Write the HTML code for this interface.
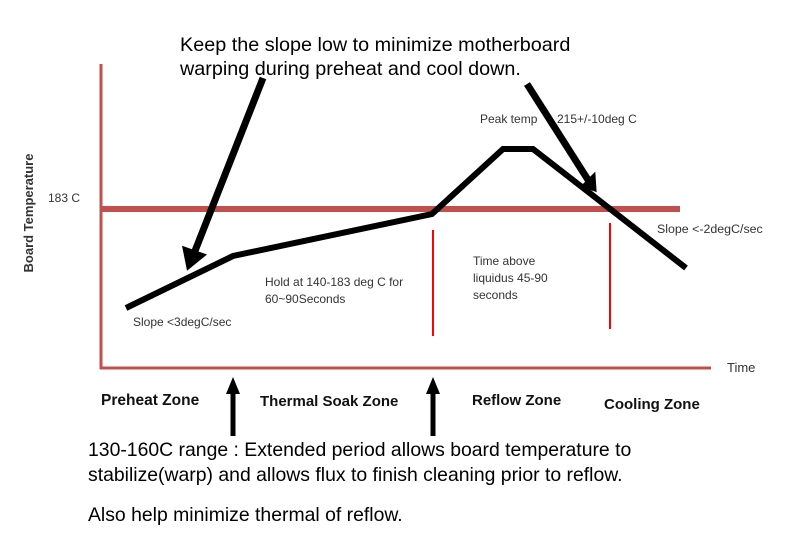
<!DOCTYPE html>
<html><head><meta charset="utf-8"><style>
html,body{margin:0;padding:0;background:#fff;}
svg{display:block;}
text{font-family:"Liberation Sans",sans-serif;}
</style></head><body>
<svg width="789" height="548" viewBox="0 0 789 548" xmlns="http://www.w3.org/2000/svg">
<!-- axes -->
<line x1="101" y1="64" x2="101" y2="369" stroke="#c0504d" stroke-width="3"/>
<line x1="100" y1="368" x2="711" y2="368" stroke="#c0504d" stroke-width="3"/>
<line x1="100" y1="209" x2="680" y2="209" stroke="#c0504d" stroke-width="6"/>
<!-- red verticals -->
<line x1="433" y1="230" x2="433" y2="336" stroke="#ff0000" stroke-width="2"/>
<line x1="610" y1="223" x2="610" y2="329" stroke="#ff0000" stroke-width="2"/>
<!-- profile -->
<polyline points="126,308 233,256 432,214 503,149 533,149 686,268" fill="none" stroke="#000" stroke-width="6" stroke-linejoin="miter"/>
<!-- arrows -->
<line x1="263" y1="78" x2="193" y2="256" stroke="#000" stroke-width="7"/>
<path d="M184,248 L188,268 L204,255 Z" fill="#000" stroke="#000" stroke-width="3"/>
<line x1="527" y1="84" x2="590" y2="183" stroke="#000" stroke-width="7"/>
<path d="M583,186 L595,190 L594,175 Z" fill="#000" stroke="#000" stroke-width="3"/>
<line x1="233" y1="436" x2="233" y2="392" stroke="#000" stroke-width="5"/>
<path d="M226,394 L233,377 L240,394 Z" fill="#000"/>
<line x1="433" y1="436" x2="433" y2="392" stroke="#000" stroke-width="5"/>
<path d="M426,394 L433,377 L440,394 Z" fill="#000"/>
<!-- texts -->
<text x="180" y="51" font-size="19.8">Keep the slope low to minimize motherboard</text>
<text x="180" y="75" font-size="19.8">warping during preheat and cool down.</text>
<text x="480" y="123" font-size="12" fill="#333">Peak temp</text>
<text x="557" y="123" font-size="12" fill="#333">215+/-10deg C</text>
<text x="48" y="202" font-size="12" fill="#333">183 C</text>
<text x="33" y="213" font-size="13" font-weight="bold" fill="#333" text-anchor="middle" transform="rotate(-90 33 213)">Board Temperature</text>
<text x="657" y="233" font-size="12.4" fill="#333">Slope &lt;-2degC/sec</text>
<text x="133" y="326" font-size="12" fill="#333">Slope &lt;3degC/sec</text>
<text x="265" y="286" font-size="12" fill="#333">Hold at 140-183 deg C for</text>
<text x="265" y="303" font-size="12" fill="#333">60~90Seconds</text>
<text x="473" y="265" font-size="12" fill="#333">Time above</text>
<text x="473" y="282" font-size="12" fill="#333">liquidus 45-90</text>
<text x="473" y="299" font-size="12" fill="#333">seconds</text>
<text x="727" y="372" font-size="13" fill="#333">Time</text>
<text x="101" y="405" font-size="15.5" font-weight="bold" fill="#111">Preheat Zone</text>
<text x="260" y="406" font-size="15" font-weight="bold" fill="#111">Thermal Soak Zone</text>
<text x="472" y="405" font-size="15" font-weight="bold" fill="#111">Reflow Zone</text>
<text x="604" y="409" font-size="15" font-weight="bold" fill="#111">Cooling Zone</text>
<text x="88" y="456" font-size="19.4">130-160C range : Extended period allows board temperature to</text>
<text x="88" y="481" font-size="19.4">stabilize(warp) and allows flux to finish cleaning prior to reflow.</text>
<text x="88" y="521" font-size="19.4">Also help minimize thermal of reflow.</text>
</svg>
</body></html>
